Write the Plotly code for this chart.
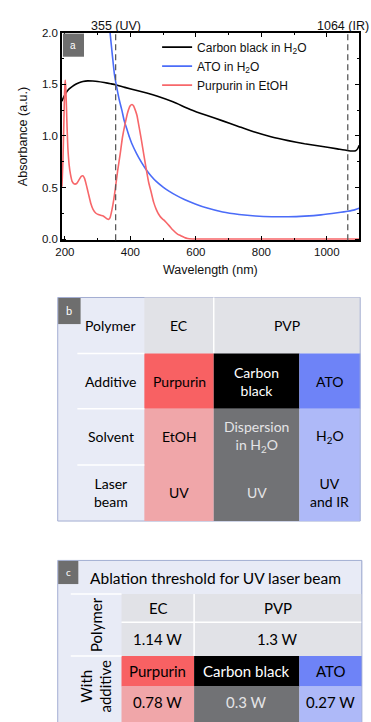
import plotly.graph_objects as go

# ---------------- data (panel a) ----------------
wl_black = [191, 197, 203, 213, 223, 233, 243, 255, 270, 285, 300, 320, 340, 355, 383, 420, 450, 483, 530, 583,
            632, 682, 732, 782, 832, 882, 932, 982, 1032, 1062, 1078, 1088, 1094, 1099]
abs_black = [1.336, 1.38, 1.416, 1.455, 1.48, 1.50, 1.515, 1.527, 1.533, 1.531, 1.527, 1.517, 1.505, 1.495, 1.47, 1.44,
             1.415, 1.384, 1.33, 1.257, 1.20, 1.146, 1.09, 1.035, 0.99, 0.955, 0.925, 0.90, 0.875, 0.86, 0.855, 0.858,
             0.875, 0.91]

wl_blue = [320, 330, 338, 345, 352, 359, 366, 374, 381, 389, 397, 404, 419, 434, 449, 464, 479, 500, 519, 540,
           565, 600, 632, 682, 732, 782, 832, 882, 932, 982, 1032, 1064, 1085, 1099]
abs_blue = [2.75, 2.3, 2.0, 1.78, 1.58, 1.46, 1.35, 1.25, 1.15, 1.07, 0.99, 0.93, 0.83, 0.745, 0.67, 0.61, 0.56, 0.505,
            0.464, 0.425, 0.385, 0.34, 0.305, 0.265, 0.241, 0.226, 0.219, 0.219, 0.225, 0.237, 0.257, 0.272, 0.285, 0.30]

wl_red = [191, 194, 197, 199, 201, 203, 206, 209, 213, 217, 222, 229, 236, 244, 250, 255, 260, 266, 272, 279,
          286, 294, 302, 309, 317, 324, 330, 334, 338, 344, 349, 354, 361, 369, 376, 384, 392, 399, 405, 410,
          415, 420, 427, 434, 441, 449, 456, 464, 471, 479, 486, 494, 501, 509, 519, 530, 544, 554, 565, 575,
          590, 620, 700, 800, 900, 1000, 1100]
abs_red = [0.51, 0.75, 1.15, 1.42, 1.54, 1.45, 1.15, 0.89, 0.72, 0.63, 0.56, 0.535, 0.54, 0.58, 0.61, 0.615, 0.59,
           0.52, 0.44, 0.35, 0.29, 0.255, 0.24, 0.232, 0.225, 0.21, 0.196, 0.194, 0.21, 0.29, 0.38, 0.49, 0.66, 0.83,
           0.99, 1.12, 1.23, 1.29, 1.305, 1.29, 1.25, 1.2, 1.08, 0.955, 0.82, 0.67, 0.55, 0.45, 0.36, 0.29, 0.245,
           0.21, 0.19, 0.165, 0.13, 0.09, 0.05, 0.035, 0.018, 0.008, 0.004, 0.003, 0.003, 0.003, 0.003, 0.003, 0.003]

series_names = ["Carbon black in H<sub>2</sub>O", "ATO in H<sub>2</sub>O", "Purpurin in EtOH"]
laser_wavelengths = [355, 1064]
laser_labels = ["355 (UV)", "1064 (IR)"]

# ---------------- data (panel b) ----------------
b_row_labels = ["Polymer", "Additive", "Solvent", "Laser<br>beam"]
b_polymers = ["EC", "PVP"]
b_additives = ["Purpurin", "Carbon<br>black", "ATO"]
b_solvents = ["EtOH", "Dispersion<br>in H<sub>2</sub>O", "H<sub>2</sub>O"]
b_lasers = ["UV", "UV", "UV<br>and IR"]

# ---------------- data (panel c) ----------------
c_title = "Ablation threshold for UV laser beam"
c_row_labels = ["Polymer", "With<br>additive"]
c_polymers = ["EC", "PVP"]
c_polymer_thresholds = ["1.14 W", "1.3 W"]
c_additives = ["Purpurin", "Carbon black", "ATO"]
c_additive_thresholds = ["0.78 W", "0.3 W", "0.27 W"]

# ---------------- helpers ----------------
W, H = 371, 722


def px(x):
    return x / W


def py(y):
    return 1 - y / H


CHART_FONT = "Liberation Sans, Arial, sans-serif"
TABLE_FONT = "Lato, Open Sans, sans-serif"

C_LAV = "#E8EBF6"
C_HEAD = "#E1E2E7"
C_RED = "#F86163"
C_BLACK = "#000000"
C_BLUE = "#6E83F7"
C_PINK = "#F0A6A9"
C_GRAY = "#717275"
C_LBLUE = "#AEB9F8"
C_BADGE = "#6E6E6E"
C_BORDER = "#A3AED2"

shapes = []
annotations = []


def rect(x0, y0, x1, y1, fill, line_color=None, line_width=0):
    shapes.append(dict(type="rect", xref="paper", yref="paper", x0=px(x0), x1=px(x1), y0=py(y1), y1=py(y0),
                       fillcolor=fill, line=dict(color=line_color or fill, width=line_width), layer="above"))


def hline(x0, x1, y, color="white", width=1.5):
    shapes.append(dict(type="line", xref="paper", yref="paper", x0=px(x0), x1=px(x1), y0=py(y), y1=py(y),
                       line=dict(color=color, width=width), layer="above"))


def vline(x, y0, y1, color="white", width=1.5):
    shapes.append(dict(type="line", xref="paper", yref="paper", x0=px(x), x1=px(x), y0=py(y0), y1=py(y1),
                       line=dict(color=color, width=width), layer="above"))


def text(x, y, s, size=14, color="black", family=TABLE_FONT, angle=0, xanchor="center"):
    annotations.append(dict(x=px(x), y=py(y), xref="paper", yref="paper", text=s, showarrow=False,
                            font=dict(size=size, color=color, family=family), textangle=angle,
                            xanchor=xanchor, yanchor="middle", align="center"))


# ---------------- panel a ----------------
fig = go.Figure()
colors = ["#000000", "#4B6CF8", "#F7676A"]
for wl, ab, name, col in zip([wl_black, wl_blue, wl_red], [abs_black, abs_blue, abs_red], series_names, colors):
    fig.add_trace(go.Scatter(x=wl, y=ab, mode="lines", name=name,
                             line=dict(color=col, width=1.6, shape="spline", smoothing=0.5)))

for wl in laser_wavelengths:
    shapes.append(dict(type="line", xref="x", yref="y domain", x0=wl, x1=wl, y0=0, y1=1,
                       line=dict(color="#5a5a5a", width=1.3, dash="6px,4px"), layer="above"))
annotations.append(dict(x=laser_wavelengths[0], y=py(20.5), xref="x", yref="paper", text=laser_labels[0],
                        showarrow=False, font=dict(size=12.5, color="#111", family=CHART_FONT),
                        xanchor="center", yanchor="middle"))
annotations.append(dict(x=px(370.5), y=py(20.5), xref="paper", yref="paper", text=laser_labels[1],
                        showarrow=False, font=dict(size=12.5, color="#111", family=CHART_FONT),
                        xanchor="right", yanchor="middle"))

# badge a
rect(57, 28, 78.5, 51.5, C_BADGE)
text(67.7, 40, "a", size=10, color="white", family=CHART_FONT)

# axis titles
text(207.5, 268.5, "Wavelength (nm)", size=12.5, color="#111", family=CHART_FONT)
text(17, 132.5, "Absorbance (a.u.)", size=12.5, color="#111", family=CHART_FONT, angle=-90)

# ---------------- panel b ----------------
bL, bT, bR, bB = 51.7, 296, 360, 523
b_cols = [140, 210.7, 298, 360]
b_rows = [296, 353, 409, 466, 523]
rect(bL, bT, bR, bB, C_LAV, C_BORDER, 1)
rect(b_cols[0], b_rows[0], bR, b_rows[1], C_HEAD)
vline(b_cols[1], b_rows[0], b_rows[1])
for i, col in enumerate([C_RED, C_BLACK, C_BLUE]):
    rect(b_cols[i], b_rows[1], b_cols[i + 1], b_rows[2], col)
for i, col in enumerate([C_PINK, C_GRAY, C_LBLUE]):
    rect(b_cols[i], b_rows[2], b_cols[i + 1], b_rows[4], col)
for y in b_rows[1:4]:
    hline(71.7, b_cols[0], y)
rect(bR - 0.5, bT, bR, bB, C_BORDER)
rect(52.2, 296.5, 75, 323, C_BADGE)
text(63.6, 309.5, "b", size=11, color="white")

lab_cx = (71.7 + b_cols[0]) / 2
col_c = [(b_cols[i] + b_cols[i + 1]) / 2 for i in range(3)]
row_c = [(b_rows[i] + b_rows[i + 1]) / 2 for i in range(4)]
for r, s in enumerate(b_row_labels):
    text(lab_cx, row_c[r], s)
text(col_c[0], row_c[0], b_polymers[0])
text((b_cols[1] + b_cols[3]) / 2, row_c[0], b_polymers[1])
add_colors = ["black", "white", "black"]
sub_colors = ["black", "#E4E4E6", "black"]
for i in range(3):
    text(col_c[i], row_c[1], b_additives[i], color=add_colors[i])
    text(col_c[i], row_c[2], b_solvents[i], color=sub_colors[i])
    text(col_c[i], row_c[3], b_lasers[i], color=sub_colors[i])

# ---------------- panel c ----------------
cL, cT, cR, cB = 51.7, 563, 361.7, 730
c_cols = [116.7, 190.7, 298, 361.7]
c_rows = [597, 625.7, 660, 691, 730]
rect(cL, cT, cR, cB, C_LAV, C_BORDER, 1)
rect(c_cols[0], c_rows[0], cR, c_rows[2], C_HEAD)
vline(c_cols[1], c_rows[0], c_rows[2])
hline(c_cols[0], cR, c_rows[1])
for i, col in enumerate([C_RED, C_BLACK, C_BLUE]):
    rect(c_cols[i], c_rows[2], c_cols[i + 1], c_rows[3], col)
for i, col in enumerate([C_PINK, C_GRAY, C_LBLUE]):
    rect(c_cols[i], c_rows[3], c_cols[i + 1], c_rows[4], col)
hline(65, c_cols[0], c_rows[0])
hline(65, c_cols[0], c_rows[2])
rect(cR - 0.5, cT, cR, cB, C_BORDER)
rect(52.2, 563.5, 72.7, 587, C_BADGE)
text(62.5, 575, "c", size=10, color="white")
text(213, 580.5, c_title, size=15.5)

ccol_c = [(c_cols[i] + c_cols[i + 1]) / 2 for i in range(3)]
text(90.8, (c_rows[0] + c_rows[2]) / 2, c_row_labels[0], size=15, angle=-90)
text(90.8, 691, c_row_labels[1], size=15, angle=-90)
text(ccol_c[0], (c_rows[0] + c_rows[1]) / 2, c_polymers[0], size=15)
text((c_cols[1] + c_cols[3]) / 2, (c_rows[0] + c_rows[1]) / 2, c_polymers[1], size=15)
text(ccol_c[0], (c_rows[1] + c_rows[2]) / 2, c_polymer_thresholds[0], size=15)
text((c_cols[1] + c_cols[3]) / 2, (c_rows[1] + c_rows[2]) / 2, c_polymer_thresholds[1], size=15)
for i in range(3):
    text(ccol_c[i], (c_rows[2] + c_rows[3]) / 2, c_additives[i], size=15, color=add_colors[i])
    text(ccol_c[i], 706.5, c_additive_thresholds[i], size=15, color=sub_colors[i])

axis_common = dict(showline=True, linecolor="black", linewidth=1.5, mirror="ticks", ticks="inside",
                   ticklen=4.5, tickwidth=1.2, tickcolor="black", showgrid=False, zeroline=False,
                   tickfont=dict(size=11.5, color="#111", family=CHART_FONT))

fig.update_layout(
    width=W, height=H, margin=dict(l=0, r=0, t=0, b=0, pad=0),
    paper_bgcolor="white", plot_bgcolor="white",
    xaxis=dict(domain=[px(56), px(359)], range=[191, 1099], tick0=0, dtick=200,
               minor=dict(ticks="inside", ticklen=2.5, tickwidth=1, tickcolor="black", tick0=0, dtick=100),
               **axis_common),
    yaxis=dict(domain=[py(238), py(27)], range=[-0.01, 2.0], tick0=0, dtick=0.5, tickformat=".1f",
               minor=dict(ticks="inside", ticklen=2.5, tickwidth=1, tickcolor="black", tick0=0, dtick=0.25),
               **axis_common),
    showlegend=True,
    legend=dict(x=px(153), y=py(27), xanchor="left", yanchor="top", bgcolor="rgba(0,0,0,0)",
                borderwidth=0, font=dict(size=12, color="#111", family=CHART_FONT), itemwidth=30,
                tracegroupgap=0),
    shapes=shapes,
    annotations=annotations,
)

fig.write_html("out.html", config={"displayModeBar": False},
               post_script="document.body.style.margin='0';document.body.style.overflow='hidden';")
